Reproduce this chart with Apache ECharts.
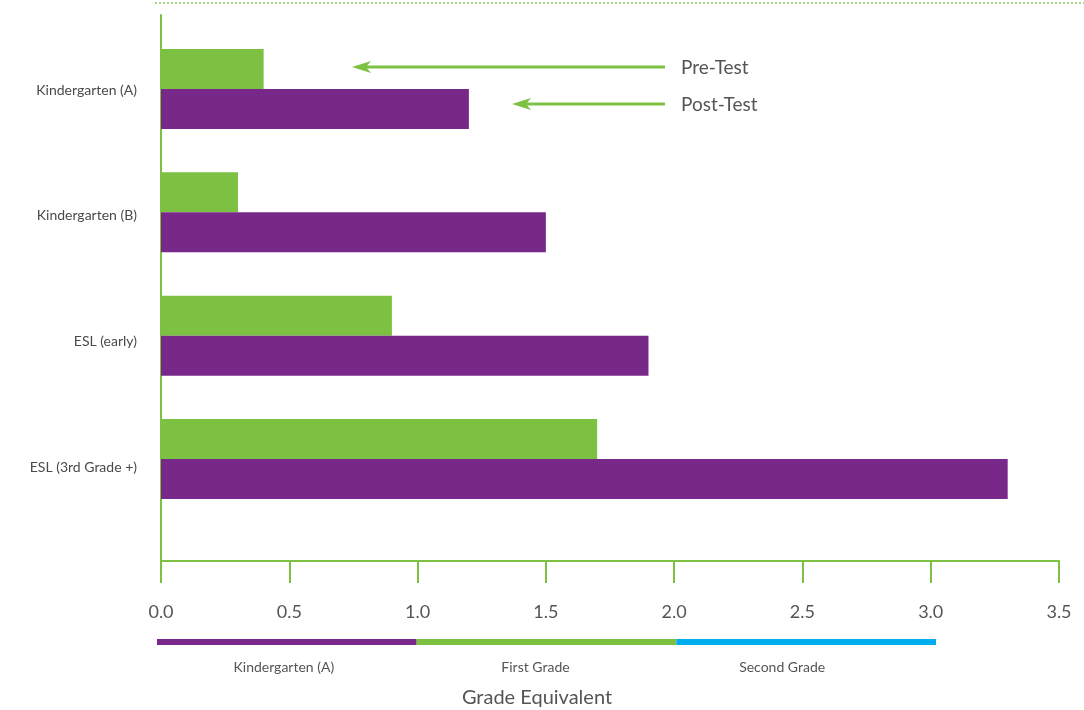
<!DOCTYPE html>
<html><head><meta charset="utf-8">
<script src="https://cdn.jsdelivr.net/npm/echarts@6/dist/echarts.min.js"></script>
<style>html,body{margin:0;padding:0;background:#fff}#c{width:1084px;height:710px}</style>
</head><body><div id="c"></div>
<script>
const categories = ['Kindergarten (A)', 'Kindergarten (B)', 'ESL (early)', 'ESL (3rd Grade +)'];
const preTest = [0.4, 0.3, 0.9, 1.7];
const postTest = [1.2, 1.5, 1.9, 3.3];
const xMin = 0, xMax = 3.5, xStep = 0.5;
const gradeBands = ['Kindergarten (A)', 'First Grade', 'Second Grade'];
const gradeBandSpan = [1, 1, 1];
const legendNames = ['Pre-Test', 'Post-Test'];
const axisTitle = 'Grade Equivalent';

const GREEN = '#7dc143', PURPLE = '#772888', BLUE = '#00aeef';
const gradeColors = [PURPLE, GREEN, BLUE];
const labelOffsets = [[-3, 0], [-11, 0], [-24, 0]];
const FONT = 'Lato, "Open Sans", sans-serif';

const chart = echarts.init(document.getElementById('c'), null, {renderer: 'canvas'});

function arrow(x1, x2, y) {
  return [
    {type: 'line', shape: {x1: x1, y1: y, x2: x2 + 12, y2: y}, style: {stroke: GREEN, lineWidth: 3}},
    {type: 'polygon', shape: {points: [[x2, y], [x2 + 19, y - 6], [x2 + 14, y], [x2 + 19, y + 6]]}, style: {fill: GREEN}}
  ];
}

const option = {
  backgroundColor: '#fff',
  animation: false,
  textStyle: {fontFamily: FONT},
  grid: [
    {left: 161, width: 898, top: 27.33, height: 493.3},
    {left: 161, width: 898, top: 15, height: 546},
    {left: 161, width: 898, top: 27.2, height: 502.7},
    {left: 157, width: 908.8, top: 639, height: 6}
  ],
  xAxis: [
    {gridIndex: 0, type: 'value', min: xMin, max: xMax, show: false},
    {gridIndex: 1, type: 'value', min: xMin, max: xMax, interval: xStep,
      axisLine: {show: true, lineStyle: {color: GREEN, width: 2}},
      axisTick: {show: true, length: 22, lineStyle: {color: GREEN, width: 2}},
      axisLabel: {margin: 42, fontSize: 18, color: '#555', fontFamily: FONT, formatter: v => v.toFixed(1)},
      splitLine: {show: false}},
    {gridIndex: 2, type: 'value', min: xMin, max: xMax, show: false},
    {gridIndex: 3, type: 'value', min: xMin, max: xMax, show: false}
  ],
  yAxis: [
    {gridIndex: 0, type: 'category', data: categories, inverse: true, show: false},
    {gridIndex: 1, type: 'value', min: 0, max: 1,
      axisLine: {show: true, lineStyle: {color: GREEN, width: 2}},
      axisTick: {show: false}, axisLabel: {show: false}, splitLine: {show: false}},
    {gridIndex: 2, type: 'category', data: categories, inverse: true,
      axisLine: {show: false}, axisTick: {show: false},
      axisLabel: {margin: 24, fontSize: 14, color: '#4a4a4a', fontFamily: FONT}},
    {gridIndex: 3, type: 'category', data: ['band'], show: false}
  ],
  series: [
    {name: legendNames[0], type: 'bar', xAxisIndex: 0, yAxisIndex: 0, data: preTest,
      barWidth: 40, barGap: '0%', itemStyle: {color: GREEN}, z: 2},
    {name: legendNames[1], type: 'bar', xAxisIndex: 0, yAxisIndex: 0, data: postTest,
      barWidth: 40, barGap: '0%', itemStyle: {color: PURPLE}, z: 2}
  ].concat(gradeBands.map((g, i) => ({
    name: g, type: 'bar', xAxisIndex: 3, yAxisIndex: 3, stack: 'grades',
    data: [gradeBandSpan[i]], barWidth: 6, itemStyle: {color: gradeColors[i]},
    label: {show: true, position: 'bottom', distance: 15, offset: labelOffsets[i],
      formatter: g, fontSize: 14, color: '#555', fontFamily: FONT}
  }))),
  graphic: [
    {type: 'line', shape: {x1: 155, y1: 3, x2: 1084, y2: 3},
      style: {stroke: '#a9d487', lineWidth: 2, lineDash: [2, 2]}},
    ...arrow(665, 352, 67),
    ...arrow(665, 512, 104),
    {type: 'text', x: 681, y: 68, style: {text: legendNames[0], fill: '#555', font: '19px ' + FONT, textVerticalAlign: 'middle'}},
    {type: 'text', x: 681, y: 105, style: {text: legendNames[1], fill: '#555', font: '19px ' + FONT, textVerticalAlign: 'middle'}},
    {type: 'text', x: 537, y: 698, style: {text: axisTitle, fill: '#555', font: '20px ' + FONT, textAlign: 'center', textVerticalAlign: 'middle'}}
  ]
};
chart.setOption(option);
</script>
</body></html>
